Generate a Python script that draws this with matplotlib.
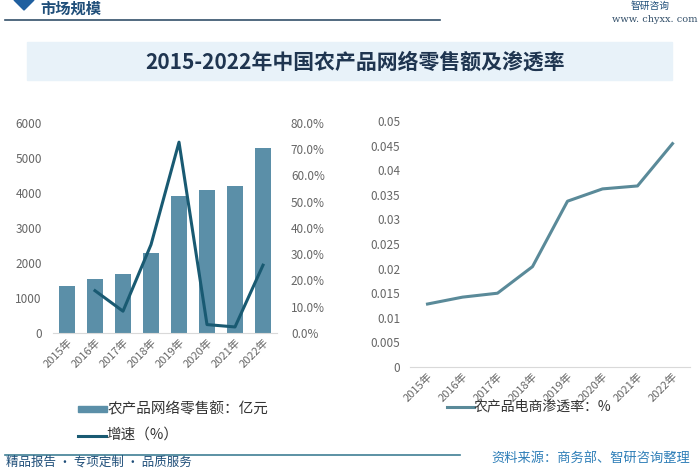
import matplotlib
matplotlib.use('Agg')
import matplotlib.pyplot as plt
from matplotlib.patches import Rectangle, Polygon
from matplotlib.lines import Line2D

plt.rcParams['font.family'] = ['Noto Sans CJK SC', 'DejaVu Sans']

years = ['2015年', '2016年', '2017年', '2018年', '2019年', '2020年', '2021年', '2022年']
sales = [1350, 1550, 1680, 2290, 3920, 4080, 4200, 5270]       # 亿元
growth = [None, 0.161, 0.083, 0.336, 0.726, 0.032, 0.023, 0.258]
penetration = [0.0128, 0.0142, 0.0150, 0.0204, 0.0337, 0.0362, 0.0368, 0.0454]

bar_color = '#5b8fa8'
line_color = '#195a72'
pen_color = '#5a8a99'
tick_color = '#666666'

W, H = 700, 470
fig = plt.figure(figsize=(7, 4.7), dpi=100)


def box(x0, y0, x1, y1):
    # pixel box (top-left origin) -> figure rect
    return [x0 / W, 1 - y1 / H, (x1 - x0) / W, (y1 - y0) / H]


# header decorations
fig.patches.append(Polygon([[14 / W, 1 - 0 / H], [24 / W, 1 - 10 / H], [34 / W, 1 - 0 / H]],
                           closed=True, transform=fig.transFigure, color='#1f5f9f'))
fig.text(40 / W, 1 - 1 / H, '市场规模', fontsize=11, color='#1f4e79', va='top', weight='bold')
fig.add_artist(Line2D([5 / W, 440 / W], [1 - 20 / H, 1 - 20 / H], color='#34506a', lw=1.2))
fig.text(650 / W, 1 - 1 / H, '智研咨询', fontsize=7, color='#1f4e79', ha='center', va='top')
fig.text(698 / W, 1 - 19 / H, 'www. chyxx. com', fontsize=7, color='#34506a', ha='right',
         va='center', family='DejaVu Serif')

# title band
fig.patches.append(Rectangle((27 / W, 1 - 80 / H), 645 / W, 38 / H, transform=fig.transFigure,
                             color='#e8f2f9', zorder=0))
fig.text(355 / W, 1 - 62 / H, '2015-2022年中国农产品网络零售额及渗透率', fontsize=15,
         color='#1f3550', ha='center', va='center', weight='bold')

# left chart: bars + growth line
ax = fig.add_axes(box(53, 122.7, 277, 333))
x = list(range(len(years)))
ax.bar(x, sales, width=0.54, color=bar_color, zorder=2)
ax.set_xlim(-0.5, len(years) - 0.5)
ax.set_ylim(0, 6000)
ax.set_yticks(range(0, 6001, 1000))
ax.set_xticks(x)
ax.set_xticklabels(years, rotation=45, ha='right', rotation_mode='anchor')
for s in ['top', 'right', 'left']:
    ax.spines[s].set_visible(False)
ax.spines['bottom'].set_color('#d9d9d9')
ax.tick_params(axis='y', length=0, labelsize=8.5, colors=tick_color, pad=8)
ax.tick_params(axis='x', length=0, labelsize=8, colors=tick_color, pad=3)

ax2 = ax.twinx()
gx = [i for i, g in zip(x, growth) if g is not None]
gy = [g for g in growth if g is not None]
ax2.plot(gx, gy, color=line_color, lw=2.2, zorder=3)
ax2.set_ylim(0, 0.8)
ax2.set_yticks([i / 10 for i in range(9)])
ax2.set_yticklabels([f'{i * 10:.1f}%' for i in range(9)])
for s in ['top', 'right', 'left', 'bottom']:
    ax2.spines[s].set_visible(False)
ax2.tick_params(length=0, labelsize=8.5, colors=tick_color, pad=10)

# left legend (drawn by hand in figure coords)
fig.patches.append(Rectangle((78 / W, 1 - 412 / H), 29 / W, 6 / H, transform=fig.transFigure,
                             color=bar_color))
fig.text(108 / W, 1 - 409 / H, '农产品网络零售额：亿元', fontsize=10.5, color='#333333', va='center')
fig.add_artist(Line2D([78 / W, 106 / W], [1 - 436 / H, 1 - 436 / H], color=line_color, lw=2.2))
fig.text(106 / W, 1 - 435 / H, '增速（%）', fontsize=10.5, color='#333333', va='center')

# right chart: penetration
ax3 = fig.add_axes(box(410, 121, 690, 367))
ax3.plot(x, penetration, color=pen_color, lw=2.2)
ax3.set_xlim(-0.5, len(years) - 0.5)
ax3.set_ylim(0, 0.05)
ticks = [i * 0.005 for i in range(11)]
ax3.set_yticks(ticks)
ax3.set_yticklabels(['0'] + [f'{t:g}' for t in ticks[1:]])
ax3.set_xticks(x)
ax3.set_xticklabels(years, rotation=45, ha='right', rotation_mode='anchor')
for s in ['top', 'right', 'left']:
    ax3.spines[s].set_visible(False)
ax3.spines['bottom'].set_color('#d9d9d9')
ax3.tick_params(axis='y', length=0, labelsize=8.5, colors=tick_color, pad=7)
ax3.tick_params(axis='x', length=0, labelsize=8, colors=tick_color, pad=3)

fig.add_artist(Line2D([447 / W, 474 / W], [1 - 407 / H, 1 - 407 / H], color=pen_color, lw=2.2))
fig.text(474 / W, 1 - 406 / H, '农产品电商渗透率：%', fontsize=10, color='#333333', va='center')

# footer
fig.add_artist(Line2D([5 / W, 460 / W], [1 - 455 / H, 1 - 455 / H], color='#3f7f95', lw=1.2))
fig.text(6 / W, 1 - 469 / H, '精品报告 · 专项定制 · 品质服务', fontsize=9, color='#1f4e79', va='bottom')
fig.text(690 / W, 1 - 458 / H, '资料来源：商务部、智研咨询整理', fontsize=9.5, color='#2f7fb8',
         ha='right', va='center')

fig.savefig('out.png', dpi=100)
